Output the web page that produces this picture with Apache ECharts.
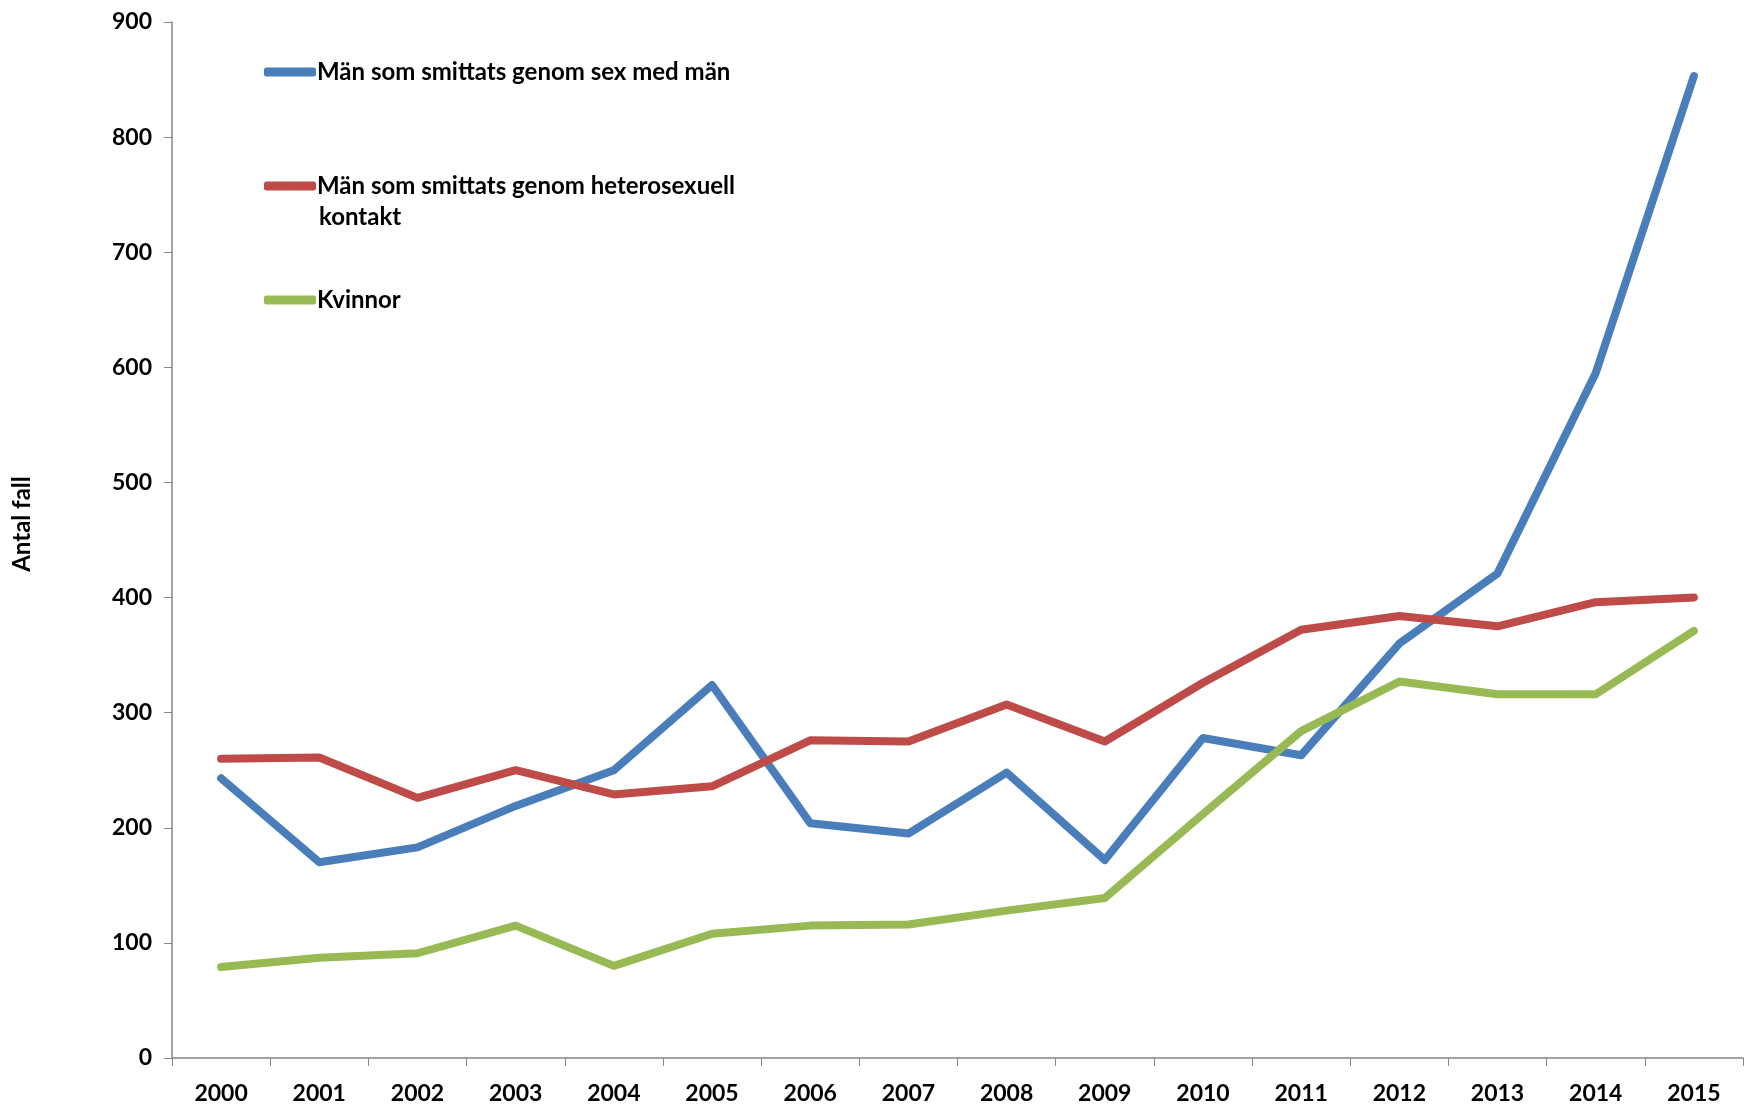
<!DOCTYPE html>
<html>
<head>
<meta charset="utf-8">
<script src="https://cdn.jsdelivr.net/npm/echarts@6/dist/echarts.min.js"></script>
<style>
  html, body { margin: 0; padding: 0; background: #fff; }
  #chart { width: 1746px; height: 1108px; }
</style>
</head>
<body>
<div id="chart"></div>
<script>
// Nya hivfall per år och smittväg
const years = ['2000','2001','2002','2003','2004','2005','2006','2007','2008','2009','2010','2011','2012','2013','2014','2015'];
const msmCases = [243, 170, 183, 219, 250, 324, 204, 195, 248, 172, 278, 263, 360, 421, 595, 853];
const heteroMenCases = [260, 261, 226, 250, 229, 236, 276, 275, 307, 275, 326, 372, 384, 375, 396, 400];
const womenCases = [79, 87, 91, 115, 80, 108, 115, 116, 128, 139, 212, 284, 327, 316, 316, 371];
const yTicks = [0, 100, 200, 300, 400, 500, 600, 700, 800, 900];

const nameMsm = 'Män som smittats genom sex med män';
const nameHetero = 'Män som smittats genom heterosexuell kontakt';
const nameWomen = 'Kvinnor';

const FONT = 'Lato';
const AXIS_GREY = '#868686';

const chart = echarts.init(document.getElementById('chart'), null, { renderer: 'canvas' });

function legendFor(name, top, label) {
  return {
    data: [name],
    left: 264,
    top: top,
    orient: 'vertical',
    icon: 'roundRect',
    itemWidth: 52,
    itemHeight: 9,
    itemGap: 0,
    padding: 0,
    selectedMode: false,
    formatter: () => label,
    textStyle: { fontFamily: FONT, fontWeight: 'bold', fontSize: 24, color: '#000', padding: [0, 0, 0, -4] }
  };
}

chart.setOption({
  animation: false,
  backgroundColor: '#fff',
  grid: { left: 172, right: 3, top: 22, bottom: 50, containLabel: false },
  legend: [
    legendFor(nameMsm, 60, nameMsm),
    legendFor(nameHetero, 174, 'Män som smittats genom heterosexuell'),
    legendFor(nameWomen, 288, nameWomen)
  ],
  graphic: [
    {
      type: 'text',
      left: 319,
      top: 205,
      style: { text: 'kontakt', fontFamily: FONT, fontWeight: 'bold', fontSize: 24, fill: '#000' }
    },
    {
      type: 'text',
      x: 22,
      y: 524,
      rotation: Math.PI / 2,
      style: { text: 'Antal fall', fontFamily: FONT, fontWeight: 'bold', fontSize: 24, fill: '#000', align: 'center', verticalAlign: 'middle' }
    }
  ],
  xAxis: {
    type: 'category',
    data: years,
    boundaryGap: true,
    axisLine: { show: true, lineStyle: { color: AXIS_GREY, width: 1.5 } },
    axisTick: { show: true, alignWithLabel: false, length: 8, lineStyle: { color: AXIS_GREY } },
    axisLabel: { margin: 24, fontFamily: FONT, fontWeight: 'bold', fontSize: 23, color: '#000' },
    splitLine: { show: false }
  },
  yAxis: {
    type: 'value',
    min: 0,
    max: 900,
    interval: 100,
    axisLine: { show: true, lineStyle: { color: AXIS_GREY, width: 1.5 } },
    axisTick: { show: true, length: 8, lineStyle: { color: AXIS_GREY } },
    axisLabel: {
      margin: 20, fontFamily: FONT, fontWeight: 'bold', fontSize: 23, color: '#000',
      formatter: v => (yTicks.includes(v) ? String(v) : '')
    },
    splitLine: { show: false }
  },
  series: [
    {
      name: nameMsm, type: 'line', data: msmCases,
      symbol: 'none', color: '#4A7EBB',
      lineStyle: { width: 8, color: '#4A7EBB', join: 'round', cap: 'round' }
    },
    {
      name: nameHetero, type: 'line', data: heteroMenCases,
      symbol: 'none', color: '#BE4B48',
      lineStyle: { width: 8, color: '#BE4B48', join: 'round', cap: 'round' }
    },
    {
      name: nameWomen, type: 'line', data: womenCases,
      symbol: 'none', color: '#98B954',
      lineStyle: { width: 8, color: '#98B954', join: 'round', cap: 'round' }
    }
  ]
});
</script>
</body>
</html>
